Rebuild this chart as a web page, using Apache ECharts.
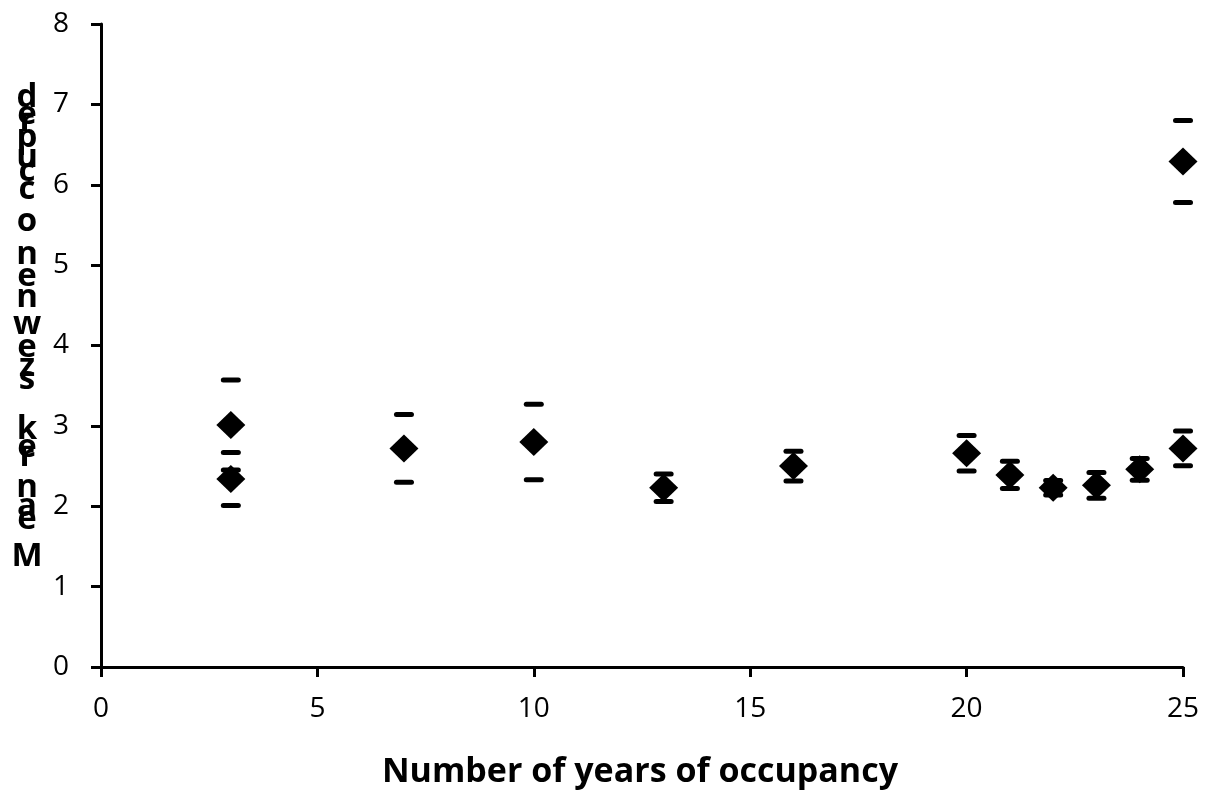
<!DOCTYPE html>
<html>
<head>
<meta charset="utf-8">
<script src="https://cdn.jsdelivr.net/npm/echarts@6/dist/echarts.min.js"></script>
<style>
html,body{margin:0;padding:0;background:#fff;}
#chart{width:1210px;height:796px;}
</style>
</head>
<body>
<div id="chart"></div>
<script>
// ---- data ----
const years = [3, 3, 7, 10, 13, 16, 20, 21, 22, 23, 24, 25, 25];
const means = [3.01, 2.34, 2.72, 2.80, 2.23, 2.50, 2.66, 2.39, 2.23, 2.26, 2.46, 6.29, 2.72];
const errors = [0.56, 0.33, 0.42, 0.47, 0.17, 0.185, 0.22, 0.17, 0.09, 0.16, 0.135, 0.51, 0.215];
const xTitle = 'Number of years of occupancy';
const yTitleChars = ['d','e','r','p','u','c','c','o','n','e','n','w','e','z','s','k','e','r','n','a','e','M'];
const yTitleBaselines = [108,125,132,148,168,182,200,232,265,287,308,335,358,377,390,440,458,467,498,517,530,567];

const FONT = '"Open Sans", "Liberation Sans", sans-serif';

const chart = echarts.init(document.getElementById('chart'), null, {renderer: 'canvas'});

const graphics = [{
  type: 'text', x: 640, y: 772, z: 10,
  style: {text: xTitle, fill: '#000', fontSize: 34, fontWeight: 'bold', fontFamily: FONT,
          align: 'center', verticalAlign: 'middle'}
}];
yTitleChars.forEach((ch, i) => {
  graphics.push({
    type: 'text', x: 27, y: yTitleBaselines[i] - 10, z: 10,
    style: {text: ch, fill: '#000', fontSize: 33, fontWeight: 'bold', fontFamily: FONT,
            align: 'center', verticalAlign: 'middle'}
  });
});

const capData = years.map((x, i) => [x, means[i], errors[i]]);
const pointData = years.map((x, i) => [x, means[i]]);

chart.setOption({
  animation: false,
  backgroundColor: '#fff',
  grid: {left: 101, right: 27, top: 24, bottom: 129, containLabel: false},
  xAxis: {
    type: 'value', min: 0, max: 25, interval: 5,
    axisLine: {show: true, onZero: false, lineStyle: {color: '#000', width: 3}},
    axisTick: {show: true, inside: false, length: 10, lineStyle: {color: '#000', width: 3}},
    axisLabel: {color: '#000', fontSize: 28, fontFamily: FONT, margin: 28},
    splitLine: {show: false}
  },
  yAxis: {
    type: 'value', min: 0, max: 8, interval: 1,
    axisLine: {show: true, onZero: false, lineStyle: {color: '#000', width: 3}},
    axisTick: {show: true, inside: false, length: 10, lineStyle: {color: '#000', width: 3}},
    axisLabel: {color: '#000', fontSize: 28, fontFamily: FONT, margin: 32},
    splitLine: {show: false}
  },
  series: [
    {
      type: 'custom',
      data: capData,
      encode: {x: 0, y: [1]},
      z: 2,
      renderItem: function (params, api) {
        const x = api.value(0), m = api.value(1), e = api.value(2);
        const hi = api.coord([x, m + e]);
        const lo = api.coord([x, m - e]);
        const st = {stroke: '#000', lineWidth: 5, lineCap: 'round', fill: null};
        return {
          type: 'group',
          children: [
            {type: 'line', shape: {x1: hi[0] - 7.5, y1: hi[1], x2: hi[0] + 7.5, y2: hi[1]}, style: st},
            {type: 'line', shape: {x1: lo[0] - 7.5, y1: lo[1], x2: lo[0] + 7.5, y2: lo[1]}, style: st}
          ]
        };
      }
    },
    {
      type: 'scatter',
      data: pointData,
      symbol: 'diamond',
      symbolSize: [29, 28],
      itemStyle: {color: '#000', opacity: 1},
      z: 3
    }
  ],
  graphic: graphics
});
</script>
</body>
</html>
